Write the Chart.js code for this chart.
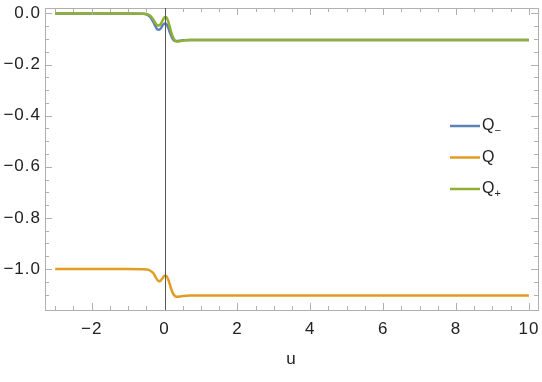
<!DOCTYPE html>
<html lang="en">
  <head>
    <meta charset="UTF-8" />
    <title>Q curves</title>
    <script src="https://cdn.jsdelivr.net/npm/chart.js"></script>
    <style>
      body { margin: 0; background: #fff; }
    </style>
  </head>
  <body>
    <canvas id="qChart" width="542" height="382"></canvas>
    <script>
      // values
      const uVals = [-3, -1, -0.6, -0.5, -0.4, -0.3, -0.25, -0.2, -0.15, -0.1, -0.05, 0,
        0.05, 0.1, 0.15, 0.2, 0.25, 0.3, 0.35, 0.4, 0.5, 0.7, 1, 10];
      const qMinus = [0, 0, -0.001, -0.003, -0.012, -0.035, -0.05, -0.062, -0.064, -0.058, -0.046, -0.039,
        -0.041, -0.055, -0.075, -0.093, -0.104, -0.108, -0.108, -0.107, -0.105, -0.104, -0.104, -0.104];
      const qMid = [-1, -1, -1.001, -1.002, -1.006, -1.018, -1.03, -1.042, -1.048, -1.045, -1.035, -1.026,
        -1.027, -1.04, -1.062, -1.085, -1.1, -1.107, -1.109, -1.108, -1.106, -1.104, -1.104, -1.104];
      const qPlus = [0, 0, -0.001, -0.002, -0.008, -0.025, -0.037, -0.046, -0.047, -0.04, -0.026, -0.015,
        -0.015, -0.03, -0.055, -0.08, -0.098, -0.107, -0.11, -0.109, -0.106, -0.104, -0.104, -0.104];
      const xTicks = [-2, 0, 2, 4, 6, 8, 10];
      const yTicks = [0, -0.2, -0.4, -0.6, -0.8, -1.0];
      const seriesNames = ["Q", "Q", "Q"];
      const seriesSubs = ["\u2212", "", "+"];

      const pts = (ys) => uVals.map((u, i) => ({ x: u, y: ys[i] }));
      const minus = (s) => String(s).replace("-", "\u2212");
      const font = "'Liberation Sans', Arial, sans-serif";

      // inward ticks, full frame and the line at u = 0
      const framePlugin = {
        id: "frame",
        beforeDraw(chart) {
          chart.ctx.letterSpacing = "1px";
        },
        afterDatasetsDraw(chart) {
          const { ctx, chartArea: a, scales } = chart;
          const xs = scales.x, ys = scales.y;
          ctx.save();
          ctx.strokeStyle = "#b0b0b0";
          ctx.lineWidth = 1;
          ctx.beginPath();
          for (let v = -3; v <= 10.001; v += 0.5) {
            const px = Math.round(xs.getPixelForValue(v)) + 0.5;
            const len = Math.abs(v % 2) < 1e-6 ? 7 : 4;
            ctx.moveTo(px, a.bottom); ctx.lineTo(px, a.bottom - len);
            ctx.moveTo(px, a.top); ctx.lineTo(px, a.top + len);
          }
          for (let v = 0; v >= -1.15; v -= 0.05) {
            const py = Math.round(ys.getPixelForValue(v)) + 0.5;
            const major = Math.abs(Math.round(v * 100) % 20) === 0;
            const len = major ? 7 : 4;
            ctx.moveTo(a.left, py); ctx.lineTo(a.left + len, py);
            ctx.moveTo(a.right, py); ctx.lineTo(a.right - len, py);
          }
          ctx.stroke();
          ctx.strokeRect(Math.round(a.left) + 0.5, Math.round(a.top) + 0.5,
            Math.round(a.right - a.left), Math.round(a.bottom - a.top));
          const x0 = Math.round(xs.getPixelForValue(0)) + 0.5;
          ctx.strokeStyle = "#555";
          ctx.beginPath();
          ctx.moveTo(x0, a.top); ctx.lineTo(x0, a.bottom);
          ctx.stroke();

          // legend
          const legendY = [126, 157.5, 189];
          ctx.letterSpacing = "0px";
          chart.data.datasets.forEach((ds, i) => {
            const y = legendY[i];
            ctx.strokeStyle = ds.borderColor;
            ctx.lineWidth = 2.5;
            ctx.beginPath();
            ctx.moveTo(450, y); ctx.lineTo(480, y);
            ctx.stroke();
            ctx.fillStyle = "#222";
            ctx.textBaseline = "middle";
            ctx.font = "16px " + font;
            ctx.fillText(seriesNames[i], 482, y);
            const w = ctx.measureText(seriesNames[i]).width;
            ctx.font = "11px " + font;
            ctx.fillText(seriesSubs[i], 482 + w, y + 5);
          });
          ctx.restore();
        },
      };

      new Chart(document.getElementById("qChart"), {
        type: "line",
        data: {
          datasets: [
            { label: "Q-", data: pts(qMinus), borderColor: "#5e81b5", order: 2 },
            { label: "Q", data: pts(qMid), borderColor: "#e19c24", order: 1 },
            { label: "Q+", data: pts(qPlus), borderColor: "#8fb032", order: 0 },
          ],
        },
        options: {
          responsive: false,
          devicePixelRatio: 1,
          animation: false,
          layout: { padding: { top: 8, right: 4, left: 0, bottom: 0 } },
          elements: {
            point: { radius: 0 },
            line: { borderWidth: 2.5, cubicInterpolationMode: "monotone", fill: false },
          },
          plugins: { legend: { display: false }, tooltip: { enabled: false } },
          scales: {
            x: {
              type: "linear",
              min: -3.28,
              max: 10.25,
              afterBuildTicks: (s) => { s.ticks = xTicks.map((v) => ({ value: v })); },
              afterFit: (s) => { s.height = 72; s.paddingLeft = 0; s.paddingRight = 0; },
              grid: { display: false, drawTicks: false },
              border: { display: false },
              ticks: {
                padding: 9,
                color: "#222",
                font: { family: font, size: 17 },
                callback: (v) => minus(v),
                maxRotation: 0,
              },
              title: {
                display: true,
                text: "u",
                color: "#222",
                font: { family: font, size: 17 },
                padding: { top: 0, bottom: 12 },
              },
            },
            y: {
              min: -1.1605,
              max: 0.0215,
              afterBuildTicks: (s) => { s.ticks = yTicks.map((v) => ({ value: v })); },
              afterFit: (s) => { s.width = 45; s.paddingTop = 0; s.paddingBottom = 0; },
              grid: { display: false, drawTicks: false },
              border: { display: false },
              ticks: {
                padding: 4,
                color: "#222",
                font: { family: font, size: 17 },
                callback: (v) => (v === 0 ? "0.0" : "\u2212" + Math.abs(v).toFixed(1)),
              },
            },
          },
        },
        plugins: [framePlugin],
      });
    </script>
  </body>
</html>
